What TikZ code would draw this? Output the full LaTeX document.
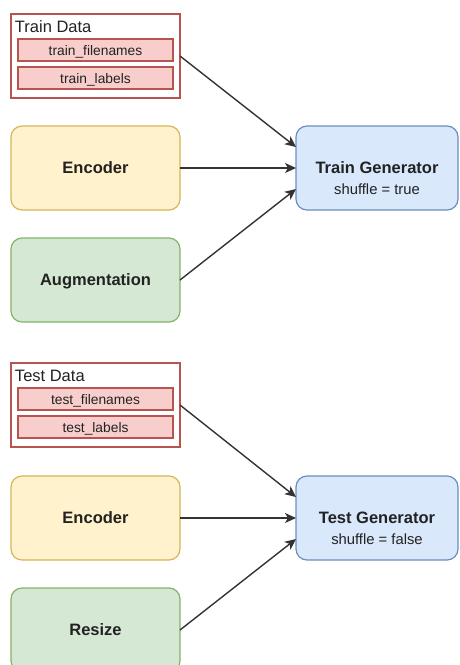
\documentclass[tikz,border=0pt]{standalone}
\usepackage{fontspec}
\setmainfont{Liberation Sans}
\usetikzlibrary{arrows.meta}

\definecolor{redline}{HTML}{B85450}
\definecolor{redfill}{HTML}{F8CECC}
\definecolor{yellowline}{HTML}{D6B656}
\definecolor{yellowfill}{HTML}{FFF2CC}
\definecolor{greenline}{HTML}{82B366}
\definecolor{greenfill}{HTML}{D5E8D4}
\definecolor{blueline}{HTML}{6C8EBF}
\definecolor{bluefill}{HTML}{DAE8FC}
\definecolor{inkgray}{HTML}{222222}
\definecolor{flowgray}{HTML}{333333}

\begin{document}
\begin{tikzpicture}[x=1pt,y=-1pt,
	every node/.style={text=inkgray,outer sep=0pt},
	databox/.style={draw=redline,fill=white,line width=1.2pt,minimum width=169pt,minimum height=84pt,inner sep=0pt},
	datafield/.style={draw=redline,fill=redfill,line width=1.2pt,minimum width=155pt,minimum height=22pt,inner sep=0pt,text height=10pt,text depth=0pt,font=\fontsize{13.8}{15}\selectfont},
	datatitle/.style={anchor=base west,inner sep=0pt,font=\fontsize{16.5}{19}\selectfont},
	stepbox/.style={rounded corners=11pt,line width=1.2pt,minimum width=169pt,minimum height=84pt,inner sep=0pt,text height=11.8pt,text depth=0pt,font=\fontsize{16.5}{19}\selectfont\bfseries},
	genbox/.style={stepbox,draw=blueline,fill=bluefill,minimum width=162pt},
	subline/.style={anchor=base,inner sep=0pt,font=\fontsize{14.8}{17}\selectfont},
	flow/.style={draw=flowgray,line width=1.4pt,-{Stealth[length=11pt,width=10pt,inset=3pt]}}]
	
	\useasboundingbox (0,0) rectangle (459,665);
	\clip (0,0) rectangle (459,665);
	
	\node[databox] (traindata) at (95.5, 56)   {};
	\node[datatitle] (traintitle) at (15, 32)  {Train Data};
	\node[datafield] (trainfiles) at (95.5, 50)  {train\_filenames};
	\node[datafield] (trainlabels) at (95.5, 78) {train\_labels};
	\node[stepbox,draw=yellowline,fill=yellowfill] (trainenc) at (95.5, 168) {Encoder};
	\node[stepbox,draw=greenline,fill=greenfill]   (trainaug) at (95.5, 280) {Augmentation};
	\node[genbox] (traingen) at (377, 168)     {Train Generator};
	\node[subline] (trainshuffle) at (377, 194) {shuffle = true};
	
	\node[databox] (testdata) at (95.5, 405)   {};
	\node[datatitle] (testtitle) at (15, 381)  {Test Data};
	\node[datafield] (testfiles) at (95.5, 399)  {test\_filenames};
	\node[datafield] (testlabels) at (95.5, 427) {test\_labels};
	\node[stepbox,draw=yellowline,fill=yellowfill] (testenc) at (95.5, 518) {Encoder};
	\node[stepbox,draw=greenline,fill=greenfill]   (testresize) at (95.5, 630) {Resize};
	\node[genbox] (testgen) at (377, 518)      {Test Generator};
	\node[subline] (testshuffle) at (377, 544) {shuffle = false};
	
	
	\path (traindata.east)  edge[flow] ([yshift=21pt]traingen.west);
	\path (trainenc.east)   edge[flow] (traingen.west);
	\path (trainaug.east)   edge[flow] ([yshift=-21pt]traingen.west);
	\path (testdata.east)   edge[flow] ([yshift=21pt]testgen.west);
	\path (testenc.east)    edge[flow] (testgen.west);
	\path (testresize.east) edge[flow] ([yshift=-21pt]testgen.west);
	
\end{tikzpicture}
\end{document}
